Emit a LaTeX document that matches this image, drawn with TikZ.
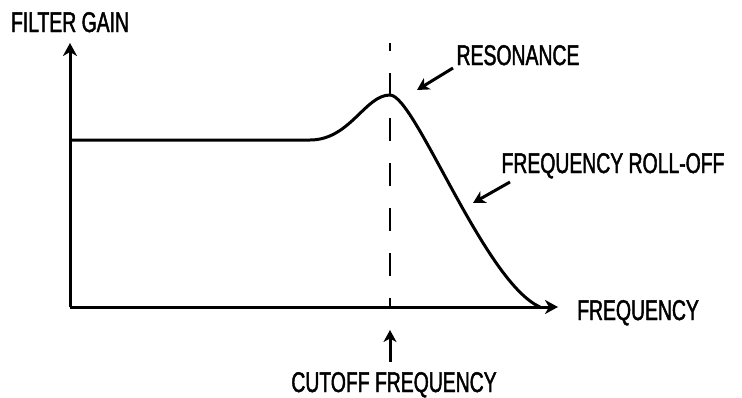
\documentclass[tikz,border=0pt]{standalone}
\usepackage{fontspec}
\setmainfont{Liberation Sans}[FakeStretch=0.68, FakeBold=1.6]
\usetikzlibrary{arrows.meta}
\tikzset{
  axis/.style={line width=3pt, -{Stealth[length=13pt,width=14pt,inset=4pt]}},
  pointer/.style={line width=3pt, -{Stealth[length=12pt,width=13pt,inset=3.5pt]}},
  caption/.style={font=\fontsize{28.5}{30}\selectfont, inner sep=0pt, text height=20pt, text depth=0pt},
}
\begin{document}
\begin{tikzpicture}[x=1pt, y=-1pt]
    \useasboundingbox (0,0) rectangle (742,397);

    % Axes
    \coordinate (origin) at (70,307);
    \coordinate (ytop) at (70,43);
    \coordinate (xend) at (558,307);
    \draw[axis] (origin) -- (ytop);
    \draw[axis] (origin) -- (xend);
    \node[caption] (gain) at (70,22) {FILTER GAIN};
    \node[caption, anchor=west] (freq) at (577,310) {FREQUENCY};

    % Cutoff line
    \coordinate (cuttop) at (390,43);
    \coordinate (cutbase) at (390,307);
    \draw[line width=2pt, dash pattern=on 23pt off 22pt, dash phase=15pt] (cuttop) -- (cutbase);

    % The response curve
    \draw[line width=3pt] (origin |- 0,140) -- (310,140)
        .. controls (350,140) and (365,95) .. (390,95)
        .. controls (415,95) and (484,282) .. (540,307);

    % Resonance
    \node[caption] (reso) at (518,55) {RESONANCE};
    \coordinate (resotail) at (453,68);
    \coordinate (resotip) at (417,90);
    \draw[pointer] (resotail) -- (resotip);

    % Roll-off
    \node[caption] (rolloff) at (613,163) {FREQUENCY ROLL-OFF};
    \coordinate (rolltail) at (510,182);
    \coordinate (rolltip) at (473,203);
    \draw[pointer] (rolltail) -- (rolltip);

    % Cutoff frequency
    \node[caption] (cutoff) at (394,382) {CUTOFF FREQUENCY};
    \coordinate (cuttip) at (390,330);
    \draw[pointer] (cutoff.north -| cuttip) ++(0,-10) coordinate (cuttail) (cuttail) -- (cuttip);

\end{tikzpicture}
\end{document}
